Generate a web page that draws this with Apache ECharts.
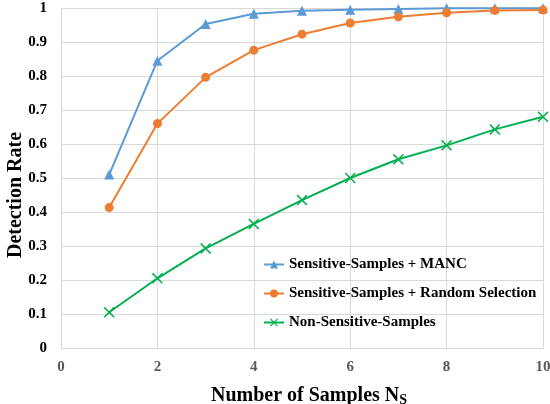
<!DOCTYPE html>
<html>
<head>
<meta charset="utf-8">
<script src="https://cdn.jsdelivr.net/npm/echarts@6/dist/echarts.min.js"></script>
<style>
  html, body { margin: 0; padding: 0; background: #fff; }
  #chart { width: 550px; height: 404px; }
</style>
</head>
<body>
<div id="chart"></div>
<script>
// number of samples
const samples = [1, 2, 3, 4, 5, 6, 7, 8, 9, 10];
// detection rate per method
const mancRate = [0.51, 0.845, 0.953, 0.983, 0.992, 0.995, 0.997, 0.999, 0.999, 0.999];
const randomRate = [0.413, 0.66, 0.796, 0.876, 0.923, 0.956, 0.974, 0.986, 0.993, 0.994];
const nonSensitiveRate = [0.105, 0.205, 0.293, 0.365, 0.435, 0.5, 0.555, 0.596, 0.643, 0.68];
const seriesNames = [
  "Sensitive-Samples + MANC",
  "Sensitive-Samples + Random Selection",
  "Non-Sensitive-Samples",
];

const font = "'Liberation Serif', 'Times New Roman', serif";
const crossSymbol = "path://M0,1L1,0L5,4L9,0L10,1L6,5L10,9L9,10L5,6L1,10L0,9L4,5Z";

function toPairs(values) {
  return samples.map((s, i) => [s, values[i]]);
}

const chart = echarts.init(document.getElementById("chart"));
const option = {
  animation: false,
  grid: {
    left: 61,
    right: 7,
    top: 8,
    bottom: 56,
    containLabel: false,
    outerBoundsMode: "none",
  },
  legend: {
    orient: "vertical",
    left: 258,
    top: 252,
    itemGap: 14,
    itemWidth: 20,
    itemHeight: 10,
    textStyle: {
      fontFamily: font,
      fontWeight: "bold",
      fontSize: 15,
      color: "#000",
    },
    data: seriesNames,
  },
  xAxis: {
    type: "value",
    min: 0,
    max: 10,
    interval: 2,
    name: "Number of Samples N{sub|S}",
    nameLocation: "middle",
    nameGap: 37,
    nameMoveOverlap: false,
    nameTextStyle: {
      fontFamily: font,
      fontWeight: "bold",
      fontSize: 20,
      color: "#000",
      padding: [0, 0, 0, 14],
      rich: {
        sub: {
          fontFamily: font,
          fontWeight: "bold",
          fontSize: 14,
          color: "#000",
          verticalAlign: "bottom",
          padding: [8, 0, 0, 0],
        },
      },
    },
    axisLine: { lineStyle: { color: "#d9d9d9", width: 1 } },
    axisTick: { show: false },
    axisLabel: {
      fontFamily: font,
      fontWeight: "bold",
      fontSize: 15,
      color: "#595959",
      margin: 12,
    },
    splitLine: { show: true, lineStyle: { color: "#d9d9d9", width: 1 } },
  },
  yAxis: {
    type: "value",
    min: 0,
    max: 1,
    interval: 0.1,
    name: "Detection Rate",
    nameLocation: "middle",
    nameGap: 35,
    nameMoveOverlap: false,
    nameTextStyle: {
      fontFamily: font,
      fontWeight: "bold",
      fontSize: 20,
      color: "#000",
      padding: [0, 34, 0, 0],
    },
    axisLine: { show: true, lineStyle: { color: "#d9d9d9", width: 1 } },
    axisTick: { show: false },
    axisLabel: {
      fontFamily: font,
      fontWeight: "bold",
      fontSize: 15,
      color: "#000",
      margin: 14,
      formatter: (v) => String(+v.toFixed(1)),
    },
    splitLine: { show: true, lineStyle: { color: "#d9d9d9", width: 1 } },
  },
  series: [
    {
      name: seriesNames[0],
      type: "line",
      data: toPairs(mancRate),
      symbol: "triangle",
      symbolSize: 10,
      lineStyle: { color: "#5b9bd5", width: 2 },
      itemStyle: { color: "#5b9bd5" },
    },
    {
      name: seriesNames[1],
      type: "line",
      data: toPairs(randomRate),
      symbol: "circle",
      symbolSize: 9,
      lineStyle: { color: "#ed7d31", width: 2 },
      itemStyle: { color: "#ed7d31" },
    },
    {
      name: seriesNames[2],
      type: "line",
      data: toPairs(nonSensitiveRate),
      symbol: crossSymbol,
      symbolSize: 11,
      lineStyle: { color: "#00b050", width: 2 },
      itemStyle: { color: "#00b050" },
    },
  ],
};
chart.setOption(option);
</script>
</body>
</html>
